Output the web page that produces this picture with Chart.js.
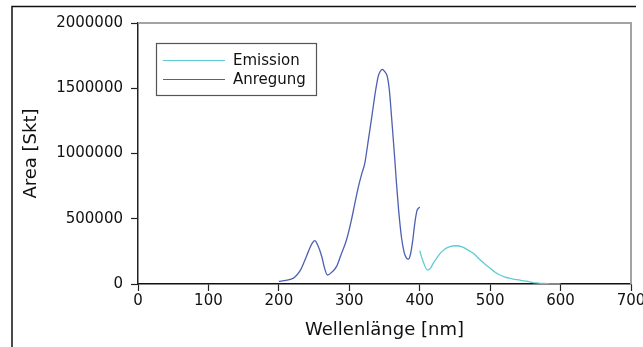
<!DOCTYPE html>
<html>
<head>
<meta charset="utf-8">
<script src="https://cdn.jsdelivr.net/npm/chart.js@4/dist/chart.umd.min.js"></script>
<style>
  html, body { margin: 0; padding: 0; background: #fff; }
  #wrap { width: 643px; height: 347px; position: relative; }
</style>
</head>
<body>
<div id="wrap"><canvas id="c" width="643" height="347"></canvas></div>
<script>
// ---- data ----
const anregungNm = [200,210,216,222,230,236,242,247,251,255,261,265,269,275,282,288,296,303,308,313,318,322,327,332,337,341,344,347,350,354,357,360,364,367,370,374,378,381,384,387,390,393,396,398,400];
const anregungArea = [20000,28000,36000,50000,100000,170000,250000,310000,332000,300000,209000,120000,69000,90000,135000,220000,337000,490000,620000,746000,850000,925000,1100000,1282000,1470000,1589000,1630000,1645000,1630000,1589000,1480000,1282000,1000000,772000,570000,362000,240000,200000,190000,230000,330000,465000,560000,580000,590000];
const emissionNm = [400,405,411,415,420,429,435,442,452,460,468,476,485,492,500,507,514,520,530,538,548,556,565,575,585,600];
const emissionArea = [255000,170000,107000,120000,165000,235000,265000,285000,293000,285000,262000,235000,190000,155000,120000,90000,69000,55000,42000,33000,24000,17000,8000,4000,1000,0];
const xTicks = [0,100,200,300,400,500,600,700];
const yTicks = [0,500000,1000000,1500000,2000000];
const seriesNames = ['Emission','Anregung'];
const xTitle = 'Wellenlänge [nm]';
const yTitle = 'Area [Skt]';

const colEmission = '#5fcad3';
const colAnregung = '#4d5fb2';
const FONT = 'DejaVu Sans';

const toPts = (xs, ys) => xs.map((x, i) => ({x: x, y: ys[i]}));

const framePlugin = {
  id: 'frame',
  beforeDraw(chart) {
    const ctx = chart.ctx;
    ctx.save();
    ctx.fillStyle = '#fff';
    ctx.fillRect(0, 0, chart.width, chart.height);
    ctx.strokeStyle = '#111';
    ctx.lineWidth = 1.5;
    ctx.beginPath();
    ctx.moveTo(12, 347);
    ctx.lineTo(12, 6.5);
    ctx.lineTo(636, 6.5);
    ctx.stroke();
    ctx.restore();
  },
  afterDraw(chart) {
    const ctx = chart.ctx;
    const a = chart.chartArea;
    ctx.save();
    // top and right gray border
    ctx.strokeStyle = '#a3a3a3';
    ctx.lineWidth = 2;
    ctx.beginPath();
    ctx.moveTo(a.left, a.top);
    ctx.lineTo(a.right, a.top);
    ctx.lineTo(a.right, a.bottom);
    ctx.stroke();
    // legend box
    const bx = 156, by = 43, bw = 160, bh = 52;
    ctx.fillStyle = '#fff';
    ctx.fillRect(bx, by, bw, bh);
    ctx.strokeStyle = '#555';
    ctx.lineWidth = 1.2;
    ctx.strokeRect(bx + 0.5, by + 0.5, bw, bh);
    const rows = [60, 79];
    chart.data.datasets.forEach((ds, i) => {
      ctx.strokeStyle = ds.borderColor;
      ctx.lineWidth = 1.2;
      ctx.beginPath();
      ctx.moveTo(163, rows[i] + 0.5);
      ctx.lineTo(225, rows[i] + 0.5);
      ctx.stroke();
      ctx.fillStyle = '#111';
      ctx.font = '15px "' + FONT + '"';
      ctx.textBaseline = 'middle';
      ctx.textAlign = 'left';
      ctx.fillText(ds.label, 233, rows[i] + 1);
    });
    ctx.restore();
  }
};

new Chart(document.getElementById('c'), {
  type: 'line',
  data: {
    datasets: [
      { label: seriesNames[0], data: toPts(emissionNm, emissionArea), borderColor: colEmission, backgroundColor: colEmission, borderWidth: 1.3, pointRadius: 0, cubicInterpolationMode: 'monotone', fill: false },
      { label: seriesNames[1], data: toPts(anregungNm, anregungArea), borderColor: colAnregung, backgroundColor: colAnregung, borderWidth: 1.3, pointRadius: 0, cubicInterpolationMode: 'monotone', fill: false }
    ]
  },
  options: {
    responsive: false,
    animation: false,
    devicePixelRatio: 1,
    layout: { padding: { left: 0, top: 23, right: 12, bottom: 0 } },
    plugins: { legend: { display: false }, tooltip: { enabled: false } },
    scales: {
      x: {
        type: 'linear', min: 0, max: 700,
        afterBuildTicks: s => { s.ticks = xTicks.map(v => ({value: v})); },
        afterFit: s => { s.height = 63; s.paddingLeft = 0; s.paddingRight = 0; },
        ticks: { color: '#111', font: { family: FONT, size: 15 }, padding: 1, maxRotation: 0, autoSkip: false },
        grid: { drawOnChartArea: false, drawTicks: true, tickLength: 7, color: '#222', tickWidth: 1.2 },
        border: { display: true, color: '#111', width: 1.5 },
        title: { display: true, text: xTitle, color: '#111', font: { family: FONT, size: 18 }, padding: { top: 0, bottom: 6 } }
      },
      y: {
        type: 'linear', min: 0, max: 2000000,
        afterBuildTicks: s => { s.ticks = yTicks.map(v => ({value: v})); },
        afterFit: s => { s.width = 138; s.paddingTop = 0; s.paddingBottom = 0; },
        ticks: { color: '#111', font: { family: FONT, size: 15 }, padding: 8, callback: v => String(v) },
        grid: { drawOnChartArea: false, drawTicks: true, tickLength: 7, color: '#222', tickWidth: 1.2 },
        border: { display: true, color: '#222', width: 1.5 },
        title: { display: true, text: yTitle, color: '#111', font: { family: FONT, size: 18 }, padding: { top: 21, bottom: 0 } }
      }
    }
  },
  plugins: [framePlugin]
});
</script>
</body>
</html>
